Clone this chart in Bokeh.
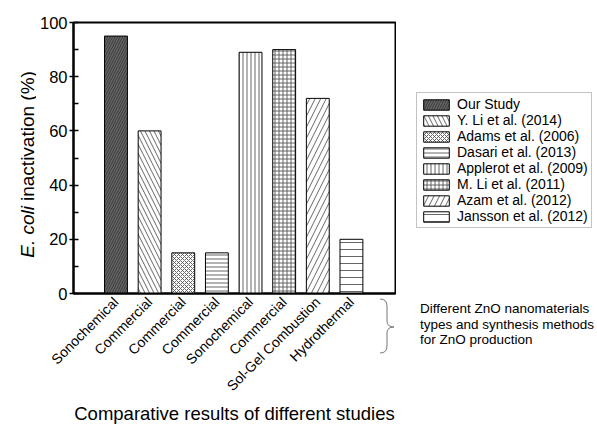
import math
from bokeh.plotting import figure
from bokeh.layouts import row, column
from bokeh.models import FixedTicker, Legend, LegendItem, Label, Range1d, Div
from bokeh.embed import file_html
from bokeh.resources import INLINE

# ---- data ----
positions = [1, 2, 3, 4, 5, 6, 7, 8]
methods = ["Sonochemical", "Commercial", "Commercial", "Commercial",
           "Sonochemical", "Commercial", "Sol-Gel Combustion", "Hydrothermal"]
studies = ["Our Study", "Y. Li et al. (2014)", "Adams et al. (2006)", "Dasari et al. (2013)",
           "Applerot et al. (2009)", "M. Li et al. (2011)", "Azam et al. (2012)", "Jansson et al. (2012)"]
inactivation = [95, 60, 15, 15, 89, 90, 72, 20]
y_ticks = [0, 20, 40, 60, 80, 100]
y_minor = [10, 30, 50, 70, 90]
note_lines = ["Different ZnO nanomaterials", "types and synthesis methods", "for ZnO production"]

# ---- styles ----
hatches = ["/", "\\", "x", "-", "|", "+", "/", "-"]
hatch_scales = [5, 9, 4, 4, 4, 4, 11, 7]
fills = ["#666666"] + ["white"] * 7
hatch_cols = ["#333333"] + ["#555555"] * 7

FONT = "Liberation Sans"
TOP, FW, FH, BOTTOM = 22, 322, 271, 132     # vertical structure shared by all strips
LW = 36                                     # y-title strip
PB_LEFT, PB_RIGHT = 34, 1
RW = 597 - LW - PB_LEFT - FW - PB_RIGHT     # right strip width
R_LEFT = LW + PB_LEFT + FW + PB_RIGHT       # page x of right strip


def bar_style(i):
    return dict(fill_color=fills[i], line_color="black", line_width=1,
                hatch_pattern=hatches[i], hatch_scale=hatch_scales[i],
                hatch_color=hatch_cols[i], hatch_weight=0.9)


def strip(w, bottom):
    f = figure(frame_width=w, frame_height=FH, min_border_top=TOP, min_border_bottom=bottom,
               min_border_left=0, min_border_right=0,
               x_range=Range1d(1000, 1001), y_range=Range1d(1000, 1001),
               x_axis_type=None, y_axis_type=None, output_backend="svg",
               toolbar_location=None,
               background_fill_color="white", border_fill_color="white")
    f.outline_line_color = None
    f.xgrid.visible = False
    f.ygrid.visible = False
    return f


# ---- main plot ----
p = figure(frame_width=FW, frame_height=FH, min_border_left=PB_LEFT, min_border_top=TOP,
           min_border_right=PB_RIGHT, min_border_bottom=BOTTOM - 1,
           x_range=Range1d(-0.263, 9.31), y_range=Range1d(0, 100),
           output_backend="svg", toolbar_location=None,
           background_fill_color="white", border_fill_color="white")
p.outline_line_color = "black"
p.outline_line_width = 2
p.xgrid.visible = False
p.ygrid.visible = False

for i in range(len(positions)):
    p.vbar(x=[positions[i]], top=[inactivation[i]], width=0.68, bottom=0, **bar_style(i))

ya = p.yaxis[0]
ya.ticker = FixedTicker(ticks=y_ticks, minor_ticks=y_minor)
ya.axis_line_width = 2
ya.major_tick_in = 5
ya.major_tick_out = 4
ya.minor_tick_in = 5
ya.minor_tick_out = 0
ya.major_tick_line_width = 1.5
ya.minor_tick_line_width = 1.5
ya.major_label_text_font = FONT
ya.major_label_text_font_size = "16.5px"
ya.major_label_text_color = "black"
ya.major_label_standoff = 2

xa = p.xaxis[0]
xa.ticker = FixedTicker(ticks=positions)
xa.major_label_overrides = {pos: m for pos, m in zip(positions, methods)}
xa.major_label_orientation = math.pi / 4
xa.major_tick_in = 0
xa.major_tick_out = 0
xa.minor_tick_in = 0
xa.minor_tick_out = 0
xa.axis_line_width = 2
xa.major_label_text_font = FONT
xa.major_label_text_font_size = "14px"
xa.major_label_text_color = "black"
xa.major_label_standoff = 6
xa.axis_label = "Comparative results of different studies"
xa.axis_label_text_font = FONT
xa.axis_label_text_font_size = "18.5px"
xa.axis_label_text_font_style = "normal"
xa.axis_label_text_color = "black"
xa.axis_label_standoff = 1

# ---- left strip: y title with italic part (screen units from frame bottom-left) ----
L = strip(LW, BOTTOM)
title_x = 26.5          # page x of title centre line
title_join = 203        # page y where "E. coli" meets "inactivation"
L.add_layout(Label(x=title_x, y=TOP + FH - (title_join + 2.5), x_units="screen", y_units="screen",
                   text="E. coli", angle=math.pi / 2, text_align="right", text_baseline="middle",
                   text_font=FONT, text_font_size="19px", text_font_style="italic",
                   text_color="black"))
L.add_layout(Label(x=title_x, y=TOP + FH - (title_join - 2.5), x_units="screen", y_units="screen",
                   text="inactivation (%)", angle=math.pi / 2, text_align="left",
                   text_baseline="middle", text_font=FONT, text_font_size="19px",
                   text_color="black"))

# ---- right strip: legend (proxy bars lie outside this strip's ranges) ----
R = strip(RW, 0)
items = []
for i in range(len(positions)):
    r = R.vbar(x=[positions[i]], top=[inactivation[i]], width=0.68, bottom=0, **bar_style(i))
    items.append(LegendItem(label=studies[i], renderers=[r]))
legend = Legend(items=items, location=(413 - R_LEFT, TOP + FH - 228),
                border_line_color="#888888", border_line_width=1,
                background_fill_color="white", background_fill_alpha=1,
                label_text_font=FONT, label_text_font_size="14px", label_text_color="black",
                glyph_width=32, glyph_height=13, label_height=16, label_standoff=5,
                spacing=0, padding=3, margin=0)
R.add_layout(legend, "center")

# ---- brace + note below the legend strip ----
note_html = (
    '<div style="position:relative;width:%dpx;height:%dpx;">'
    '<svg style="position:absolute;left:-17px;top:0px;overflow:visible" width="24" height="70">'
    '<path d="M1,6 Q8,6 8,13 L8,28 Q8,34 15,34 Q8,34 8,40 L8,53 Q8,60 1,60" '
    'fill="none" stroke="#777777" stroke-width="1"/></svg>'
    '<div style="position:absolute;left:%dpx;top:8px;line-height:15.5px;white-space:nowrap;'
    "font-family:'Liberation Sans';font-size:13.5px;color:black;\">%s</div></div>"
) % (RW, BOTTOM, 417 - R_LEFT, "<br>".join(note_lines))
note = Div(text=note_html, width=RW, height=BOTTOM, margin=0)

layout = row(L, p, column(R, note, spacing=0), spacing=0)
open("out.html", "w").write(file_html(layout, INLINE))
